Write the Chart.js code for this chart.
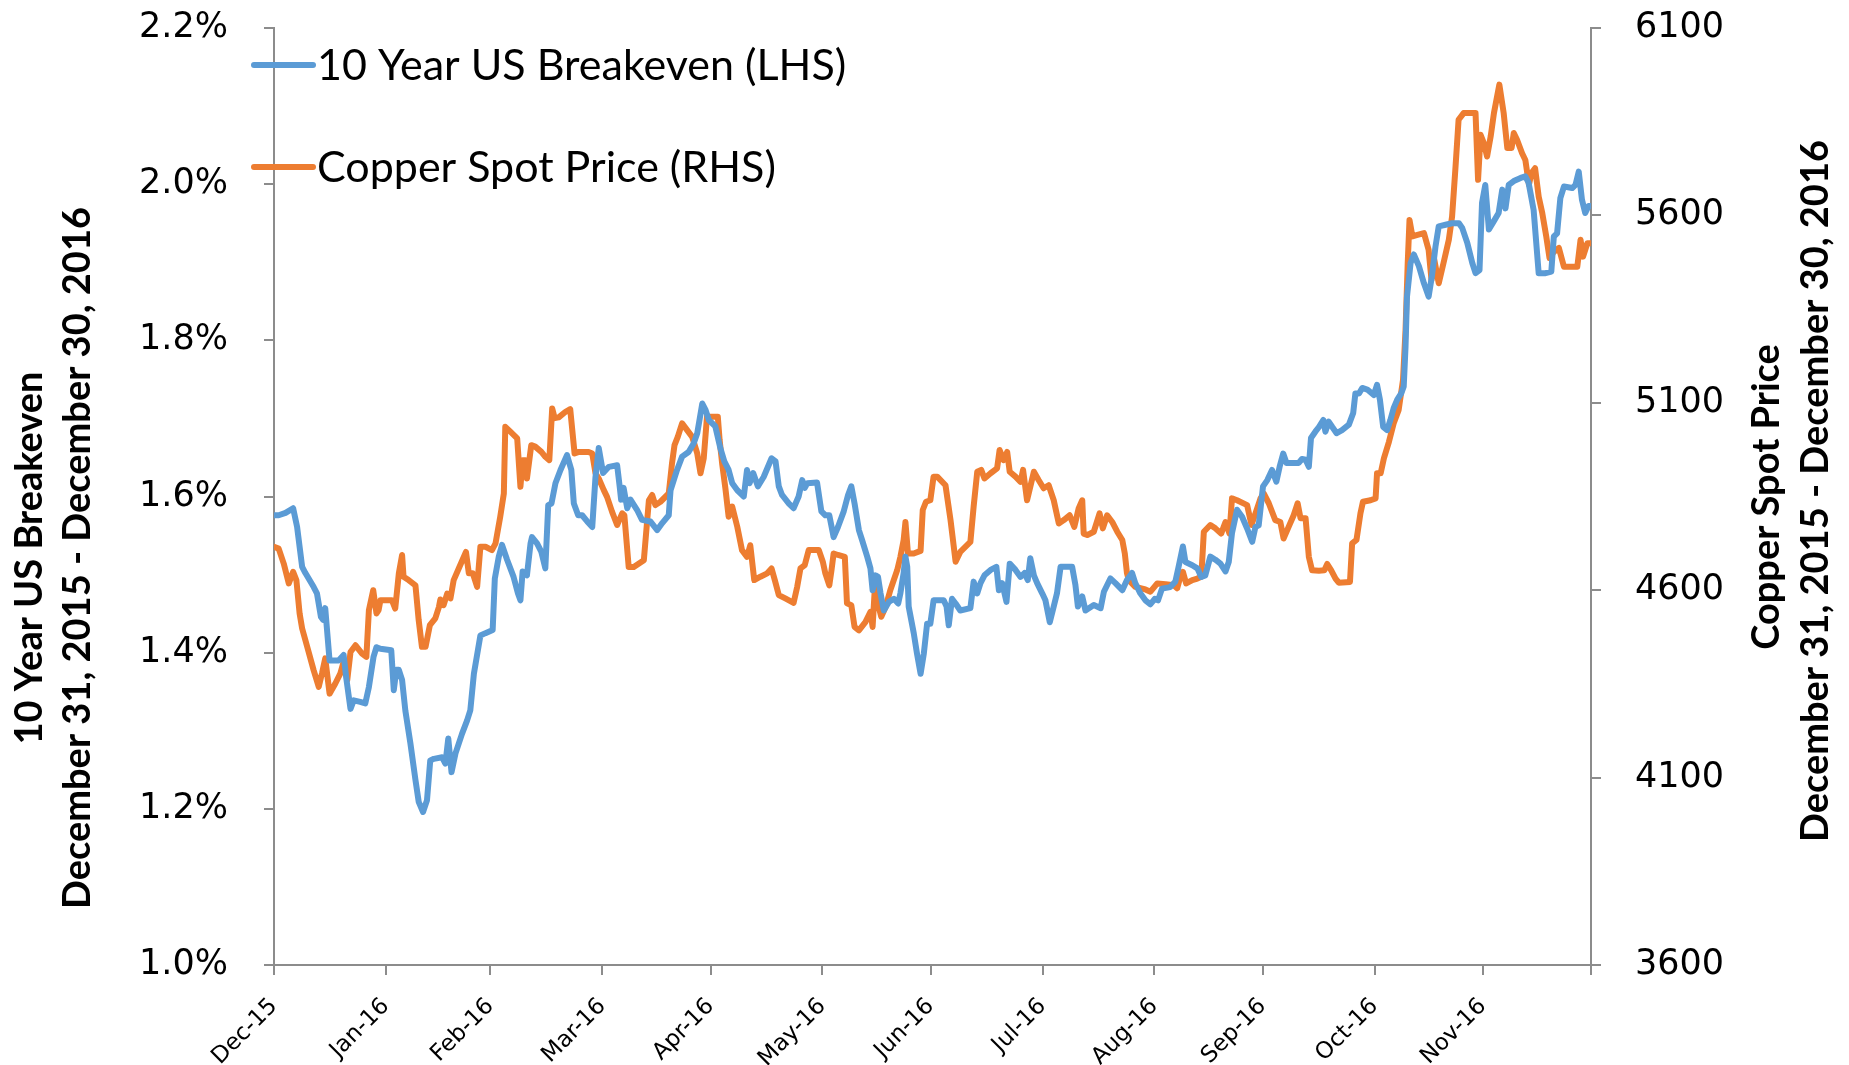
<!DOCTYPE html>
<html>
<head>
<meta charset="utf-8">
<script src="https://cdn.jsdelivr.net/npm/chart.js@4.4.1/dist/chart.umd.min.js"></script>
<style>
html,body{margin:0;padding:0;background:#ffffff;}
#wrap{width:1849px;height:1065px;position:relative;}
</style>
</head>
<body>
<div id="wrap"><canvas id="c" width="1849" height="1065"></canvas></div>
<script>
// ---- Data (x = days since Dec 31, 2015) ----
const breakevenDays = [
0,1.3,3.2,5.3,6.4,7.8,8.7,11.0,11.9,13.0,
13.6,14.2,14.7,15.4,17.9,19.3,20.1,21.2,22.1,23.9,
25.3,26.3,27.6,28.4,29.5,32.5,33.2,33.9,34.6,35.5,
36.4,37.8,39.2,40.1,41.3,42.4,43.3,44.3,46.6,47.5,
48.3,49.2,50.3,52.1,53.5,54.4,55.4,57.2,58.6,60.6,
61.2,62.3,63.2,64.6,66.4,67.6,68.3,68.9,70.1,71.1,
71.5,72.9,74.1,75.2,76.0,76.9,78.0,79.4,81.2,82.4,
83.1,84.3,85.4,86.8,88.2,89.1,90.0,91.2,92.8,95.1,
95.8,96.2,96.9,97.9,98.8,100.6,102.0,104.3,106.2,107.6,
109.4,109.9,110.8,111.7,113.1,114.9,116.3,117.3,118.7,119.6,
120.5,122.3,123.7,124.8,126.0,127.0,128.4,130.2,131.1,131.8,
132.8,134.1,135.7,137.9,139.0,139.9,140.8,142.7,144.0,145.4,
146.4,147.1,147.8,150.5,151.7,152.8,153.9,155.1,156.3,157.9,
159.1,160.0,160.9,162.1,163.0,164.4,165.3,165.9,166.7,167.4,
168.1,169.0,170.4,171.8,173.0,173.6,174.5,175.0,175.5,175.9,
177.3,178.2,179.2,180.1,181.0,181.9,182.8,185.6,186.4,187.0,
187.9,188.9,190.2,193.0,193.9,194.9,195.8,196.9,198.6,200.2,
200.9,201.8,203.0,203.9,205.5,206.9,208.0,208.9,209.6,210.6,
211.5,212.9,213.8,215.0,216.1,217.0,218.0,219.8,221.2,222.1,
222.8,224.0,224.9,227.2,229.1,230.0,231.8,233.2,235.1,236.4,
237.8,238.7,240.1,241.5,242.9,244.1,245.0,246.1,248.4,249.8,
250.7,251.9,252.6,254.5,255.9,257.0,258.1,259.5,260.9,262.3,
263.7,264.6,265.5,266.9,268.3,269.7,271.1,272.0,272.9,274.1,
275.3,276.6,277.8,278.7,279.7,280.6,282.6,284.0,284.9,285.9,
286.8,287.4,288.6,289.6,290.8,291.4,292.3,293.3,294.5,296.0,
297.9,299.1,299.7,300.7,301.6,303.0,304.8,305.7,306.5,307.4,
308.5,309.4,310.3,311.3,312.4,313.1,313.6,314.0,315.0,315.9,
317.3,318.7,320.0,320.9,321.9,322.8,324.7,326.5,328.4,329.3,
330.7,332.1,333.0,334.1,334.8,335.7,336.7,338.0,339.4,340.4,
341.3,342.2,343.6,345.5,346.8,347.7,349.1,350.5,352.4,354.0,
354.7,355.6,356.5,357.5,359.8,360.7,361.6,362.5,363.4,364.3,
365.0
];
const breakevenValues = [
1.576,1.576,1.579,1.585,1.561,1.510,1.502,1.484,1.476,1.446,
1.442,1.457,1.429,1.390,1.390,1.397,1.365,1.328,1.339,1.337,
1.335,1.356,1.395,1.407,1.405,1.403,1.352,1.378,1.378,1.365,
1.326,1.284,1.237,1.209,1.196,1.211,1.262,1.264,1.266,1.258,
1.290,1.247,1.271,1.296,1.313,1.326,1.373,1.422,1.425,1.429,
1.495,1.523,1.538,1.519,1.497,1.476,1.467,1.504,1.499,1.540,
1.548,1.540,1.529,1.508,1.589,1.591,1.617,1.634,1.653,1.634,
1.591,1.576,1.576,1.568,1.561,1.625,1.662,1.630,1.638,1.640,
1.613,1.596,1.611,1.585,1.596,1.583,1.570,1.568,1.557,1.566,
1.576,1.608,1.621,1.634,1.651,1.657,1.668,1.681,1.719,1.711,
1.698,1.690,1.662,1.645,1.634,1.617,1.608,1.600,1.634,1.617,
1.630,1.613,1.625,1.649,1.645,1.613,1.602,1.591,1.585,1.600,
1.621,1.611,1.617,1.618,1.581,1.576,1.576,1.548,1.561,1.581,
1.602,1.613,1.591,1.557,1.544,1.523,1.508,1.480,1.499,1.497,
1.476,1.454,1.465,1.469,1.463,1.476,1.502,1.523,1.510,1.459,
1.425,1.399,1.373,1.399,1.437,1.437,1.467,1.467,1.459,1.435,
1.469,1.463,1.454,1.457,1.491,1.476,1.489,1.499,1.506,1.510,
1.480,1.489,1.465,1.514,1.506,1.497,1.502,1.493,1.521,1.499,
1.489,1.476,1.467,1.439,1.459,1.476,1.510,1.510,1.510,1.487,
1.459,1.472,1.454,1.461,1.457,1.478,1.495,1.489,1.480,1.493,
1.502,1.489,1.476,1.467,1.462,1.469,1.467,1.482,1.484,1.491,
1.510,1.536,1.516,1.512,1.508,1.497,1.499,1.523,1.519,1.514,
1.504,1.516,1.553,1.583,1.574,1.559,1.542,1.561,1.563,1.613,
1.621,1.634,1.619,1.638,1.655,1.643,1.643,1.643,1.648,1.647,
1.638,1.675,1.683,1.689,1.698,1.683,1.696,1.689,1.681,1.685,
1.692,1.707,1.732,1.732,1.739,1.737,1.730,1.743,1.724,1.689,
1.685,1.698,1.713,1.724,1.732,1.741,1.792,1.856,1.899,1.910,
1.895,1.873,1.856,1.882,1.920,1.946,1.948,1.950,1.950,1.944,
1.925,1.899,1.886,1.890,1.976,1.999,1.942,1.952,1.963,1.993,
1.969,1.999,2.004,2.008,2.010,2.002,1.967,1.886,1.886,1.888,
1.933,1.937,1.982,1.997,1.995,1.999,2.016,1.980,1.963,1.972,
1.972
];
const copperDays = [
0,1.3,2.7,4.1,5.3,6.2,7.1,7.8,9.2,11.0,
12.4,13.3,14.2,15.4,17.0,18.4,19.3,20.3,21.2,22.6,
24.4,25.6,26.3,27.5,28.4,29.0,29.5,32.7,33.6,34.6,
35.5,35.9,37.3,39.2,40.1,41.0,42.0,43.2,44.7,45.7,
46.1,47.0,48.0,48.9,49.8,51.2,53.2,54.0,55.1,56.3,
57.2,58.6,60.4,61.4,62.7,63.7,64.1,65.5,67.4,68.3,
68.9,69.7,70.1,71.3,72.4,74.1,75.2,76.3,77.1,77.8,
78.9,80.8,82.1,83.3,84.5,87.2,88.2,89.1,90.0,91.4,
92.3,93.7,95.1,96.5,97.1,98.3,99.7,102.5,103.9,104.8,
105.7,107.1,109.4,110.3,111.0,111.9,113.1,114.5,115.9,117.3,
118.2,119.1,120.0,123.0,123.5,124.2,125.1,126.0,127.0,128.4,
129.7,131.1,132.0,133.1,134.8,136.7,137.9,138.8,139.9,141.7,
144.0,145.0,145.9,147.1,148.2,151.0,152.1,152.8,153.9,154.5,
155.1,156.3,158.2,158.8,160.0,160.9,162.1,163.9,165.3,165.9,
166.7,167.6,168.3,169.5,170.8,172.7,173.6,174.5,175.0,175.7,
177.3,179.2,179.8,180.7,181.9,182.8,183.8,186.1,187.5,188.9,
190.2,193.0,193.9,194.9,196.0,196.9,198.6,200.4,201.1,202.2,
203.2,203.9,205.5,206.9,207.6,208.7,209.6,210.6,211.9,213.3,
214.7,216.1,217.5,218.9,220.5,221.8,223.0,224.0,224.4,225.4,
227.2,228.8,229.7,230.9,232.3,233.7,235.1,235.8,236.4,236.9,
238.7,241.5,242.9,244.8,247.1,249.4,250.3,251.2,251.9,252.8,
254.5,255.9,257.0,257.7,259.5,260.9,262.5,263.7,264.8,265.5,
266.9,269.7,270.9,272.0,273.4,274.3,275.7,277.5,278.9,279.8,
281.2,282.6,283.7,284.5,285.9,286.8,287.7,289.6,291.1,291.9,
293.0,294.2,295.1,298.2,298.8,300.0,301.1,301.8,303.9,305.3,
305.7,306.7,307.6,309.0,310.3,311.7,312.9,313.6,314.2,314.7,
315.5,316.9,318.7,320.0,320.8,321.4,322.8,324.1,325.6,326.5,
327.4,328.3,329.7,333.0,333.7,334.4,335.3,336.2,337.2,338.1,
339.6,340.8,341.8,343.0,343.6,344.5,345.9,346.8,347.8,348.5,
349.5,350.5,351.5,352.6,353.5,354.7,356.1,357.5,361.2,362.1,
362.8,364.0,364.9
];
const copperValues = [
4716,4711,4671,4618,4649,4627,4538,4498,4449,4386,
4342,4378,4418,4324,4351,4378,4409,4360,4435,4453,
4431,4422,4547,4600,4538,4547,4573,4573,4551,4645,
4694,4636,4627,4613,4520,4449,4449,4507,4525,4555,
4575,4560,4591,4578,4627,4658,4702,4645,4645,4609,
4716,4716,4707,4725,4796,4858,5036,5023,5005,4876,
4947,4947,4898,4987,4983,4969,4956,4947,5085,5059,
5061,5076,5083,4965,4969,4969,4965,4912,4898,4867,
4849,4809,4774,4805,4800,4662,4662,4680,4840,4854,
4827,4836,4858,4938,4987,5009,5045,5027,5009,4965,
4912,4952,5063,5063,5001,4938,4872,4796,4823,4769,
4707,4689,4720,4627,4636,4645,4658,4627,4587,4578,
4566,4609,4658,4667,4707,4707,4676,4645,4613,4653,
4698,4694,4689,4565,4560,4502,4493,4515,4542,4502,
4636,4555,4529,4555,4600,4653,4689,4734,4782,4698,
4698,4705,4814,4836,4840,4903,4903,4880,4787,4676,
4702,4729,4823,4916,4921,4898,4912,4925,4974,4947,
4969,4916,4903,4889,4921,4840,4876,4916,4894,4872,
4880,4840,4778,4787,4800,4769,4818,4840,4751,4747,
4756,4805,4765,4800,4782,4756,4734,4698,4645,4627,
4609,4602,4596,4618,4616,4613,4605,4636,4649,4618,
4627,4631,4636,4756,4774,4765,4751,4782,4751,4845,
4840,4827,4774,4805,4845,4858,4832,4787,4782,4738,
4769,4800,4832,4792,4792,4689,4653,4652,4653,4670,
4653,4631,4620,4622,4725,4734,4805,4836,4840,4845,
4912,4912,4952,4996,5045,5081,5161,5294,5472,5588,
5544,5548,5553,5508,5428,5490,5419,5472,5535,5597,
5722,5855,5873,5873,5695,5815,5793,5757,5811,5873,
5949,5873,5780,5780,5820,5802,5766,5748,5682,5713,
5726,5650,5606,5544,5486,5503,5513,5463,5463,5535,
5490,5526,5526
];
const monthTickDays = [0,31,60,91,121,152,182,213,244,274,305,335,365];
const monthTickLabels = ['Dec-15','Jan-16','Feb-16','Mar-16','Apr-16','May-16','Jun-16','Jul-16','Aug-16','Sep-16','Oct-16','Nov-16',''];
const leftTicks = [1.0,1.2,1.4,1.6,1.8,2.0,2.2];
const rightTicks = [3600,4100,4600,5100,5600,6100];
const seriesNames = ['10 Year US Breakeven (LHS)','Copper Spot Price (RHS)'];
const seriesColors = ['#5B9BD5','#ED7D31'];
const leftTitle = ['10 Year US Breakeven','December 31, 2015 - December 30, 2016'];
const rightTitle = ['Copper Spot Price','December 31, 2015 - December 30, 2016'];

const AXIS_GRAY = '#8c8c8c';

const legendPlugin = {
  id: 'insideLegend',
  afterDraw(chart) {
    const ctx = chart.ctx;
    const ca = chart.chartArea;
    ctx.save();
    chart.data.datasets.forEach((ds, i) => {
      const y = ca.top + 37 + i * 102;
      ctx.strokeStyle = ds.borderColor;
      ctx.lineWidth = 6;
      ctx.lineCap = 'round';
      ctx.beginPath();
      ctx.moveTo(ca.left - 20, y);
      ctx.lineTo(ca.left + 39, y);
      ctx.stroke();
      ctx.fillStyle = '#000';
      ctx.font = '43px Lato';
      ctx.textBaseline = 'middle';
      ctx.textAlign = 'left';
      ctx.fillText(ds.label, ca.left + 43, y + 1);
    });
    ctx.restore();
  }
};

const titlePlugin = {
  id: 'axisTitles',
  afterDraw(chart) {
    const ctx = chart.ctx;
    ctx.save();
    ctx.fillStyle = '#000';
    ctx.font = 'bold 38px Lato';
    ctx.textAlign = 'center';
    ctx.textBaseline = 'middle';
    const draw = (txt, x, y) => {
      ctx.save();
      ctx.translate(x, y);
      ctx.rotate(-Math.PI / 2);
      ctx.fillText(txt, 0, 0);
      ctx.restore();
    };
    draw(leftTitle[0], 30, 558);
    draw(leftTitle[1], 78, 558);
    draw(rightTitle[0], 1767, 497);
    draw(rightTitle[1], 1816, 491);
    ctx.restore();
  }
};

const fitY = (w) => (s) => { s.width = w; s.paddingTop = 28; s.paddingBottom = 0; };

const ctx = document.getElementById('c').getContext('2d');
new Chart(ctx, {
  type: 'line',
  data: {
    datasets: [
      {
        label: seriesNames[0],
        data: breakevenDays.map((d, i) => ({x: d, y: breakevenValues[i]})),
        borderColor: seriesColors[0],
        backgroundColor: seriesColors[0],
        borderWidth: 6,
        pointRadius: 0,
        tension: 0,
        borderJoinStyle: 'round',
        borderCapStyle: 'round',
        yAxisID: 'y'
      },
      {
        label: seriesNames[1],
        data: copperDays.map((d, i) => ({x: d, y: copperValues[i]})),
        borderColor: seriesColors[1],
        backgroundColor: seriesColors[1],
        borderWidth: 6,
        pointRadius: 0,
        tension: 0,
        borderJoinStyle: 'round',
        borderCapStyle: 'round',
        yAxisID: 'y2'
      }
    ]
  },
  options: {
    responsive: false,
    animation: false,
    devicePixelRatio: 1,
    layout: {padding: {top: 0, left: 0, right: 0, bottom: 0}},
    plugins: {legend: {display: false}, tooltip: {enabled: false}, title: {display: false}},
    scales: {
      x: {
        type: 'linear',
        min: 0,
        max: 365,
        afterBuildTicks: (s) => { s.ticks = monthTickDays.map(v => ({value: v})); },
        afterFit: (s) => { s.height = 100; },
        ticks: {
          autoSkip: false,
          maxRotation: 45,
          minRotation: 45,
          padding: 18,
          color: '#000',
          font: {family: 'DejaVu Sans', size: 23},
          callback: (v, i) => monthTickLabels[i]
        },
        grid: {drawOnChartArea: false, drawTicks: true, tickLength: 10, color: AXIS_GRAY, lineWidth: 2},
        border: {display: true, color: AXIS_GRAY, width: 2}
      },
      y: {
        position: 'left',
        min: 1.0,
        max: 2.2,
        afterBuildTicks: (s) => { s.ticks = leftTicks.map(v => ({value: v})); },
        afterFit: fitY(274),
        ticks: {
          padding: 36,
          color: '#000',
          font: {family: 'DejaVu Sans', size: 35},
          callback: (v) => Number(v).toFixed(1) + '%'
        },
        grid: {drawOnChartArea: false, drawTicks: true, tickLength: 10, color: AXIS_GRAY, lineWidth: 2},
        border: {display: true, color: AXIS_GRAY, width: 2}
      },
      y2: {
        position: 'right',
        min: 3600,
        max: 6100,
        afterBuildTicks: (s) => { s.ticks = rightTicks.map(v => ({value: v})); },
        afterFit: fitY(258),
        ticks: {
          padding: 34,
          color: '#000',
          font: {family: 'DejaVu Sans', size: 35},
          callback: (v) => String(v)
        },
        grid: {drawOnChartArea: false, drawTicks: true, tickLength: 10, color: AXIS_GRAY, lineWidth: 2},
        border: {display: true, color: AXIS_GRAY, width: 2}
      }
    }
  },
  plugins: [legendPlugin, titlePlugin]
});
</script>
</body>
</html>
